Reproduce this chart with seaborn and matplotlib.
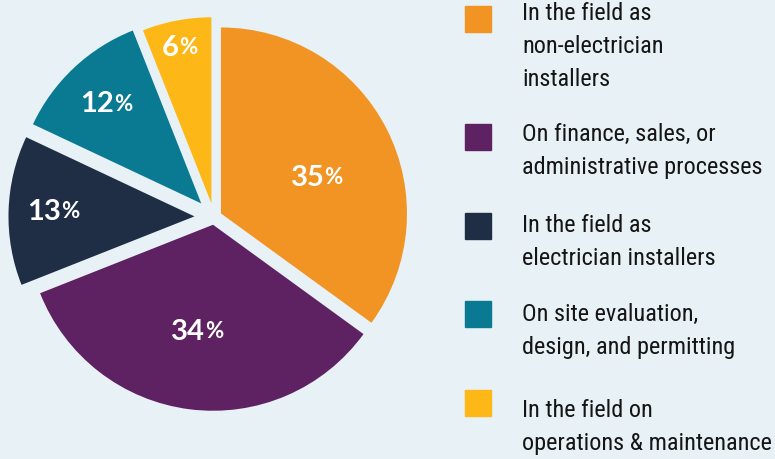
import numpy as np
import matplotlib.pyplot as plt
import seaborn as sns
from matplotlib.patches import Rectangle

# data
categories = ["In the field as\nnon-electrician\ninstallers",
              "On finance, sales, or\nadministrative processes",
              "In the field as\nelectrician installers",
              "On site evaluation,\ndesign, and permitting",
              "In the field on\noperations & maintenance"]
shares = [35, 34, 13, 12, 6]
colors = ["#f29423", "#5e2262", "#1f2e45", "#0a7a93", "#fdb817"]

# layout
explode = [0.042, 0.042, 0.105, 0.1, 0.075]
label_dist = [0.56, 0.58, 0.75, 0.73, 0.85]
label_turn = [-7, 0, 0, 0, 0]
square_tops = [6, 124, 213, 301, 390]      # px from top
text_baselines = [24, 143, 234, 323, 419]  # first line, px from top
line_step = 31
bg = "#e8f1f5"

sns.set_theme(style="white")
plt.rcParams["font.family"] = ["Roboto Condensed", "PT Sans Narrow", "DejaVu Sans"]

W, H = 775, 459
fig = plt.figure(figsize=(W / 100, H / 100), dpi=100, facecolor=bg)
ax = fig.add_axes([0, 0, 1, 1])
ax.set_facecolor(bg)

R, cx, cy = 186, 214, 217   # pie radius and centre in px
wedges, _ = ax.pie(shares, colors=sns.color_palette(colors), explode=explode,
                   startangle=90, counterclock=False,
                   wedgeprops=dict(linewidth=0))
ax.set_xlim(-cx / R, (W - cx) / R)
ax.set_ylim(-(H - cy) / R, cy / R)
ax.set_aspect("auto")
ax.axis("off")

# percentage labels, smaller % sign
for w, v, d, turn in zip(wedges, shares, label_dist, label_turn):
    ang = np.deg2rad((w.theta1 + w.theta2) / 2 + turn)
    x = w.center[0] + d * np.cos(ang)
    y = w.center[1] + d * np.sin(ang)
    t = ax.text(x - 0.06, y, str(v), ha="center", va="center", color="white",
                fontsize=21, fontweight="bold", family="Lato")
    ax.annotate("%", xy=(1, 0.1), xycoords=t, ha="left", va="bottom",
                color="white", fontsize=16, fontweight="bold", family="Lato")

# legend (va="baseline" on multi-line text anchors the last line)
for lab, col, sq, bl in zip(categories, colors, square_tops, text_baselines):
    fig.patches.append(Rectangle((465 / W, 1 - (sq + 26) / H), 26 / W, 26 / H,
                                 transform=fig.transFigure, color=col))
    last = bl + lab.count("\n") * line_step
    fig.text(522 / W, 1 - last / H, lab, ha="left", va="baseline",
             fontsize=17.5, color="#151515", linespacing=1.55)

fig.savefig("out.png", dpi=100, facecolor=bg)
